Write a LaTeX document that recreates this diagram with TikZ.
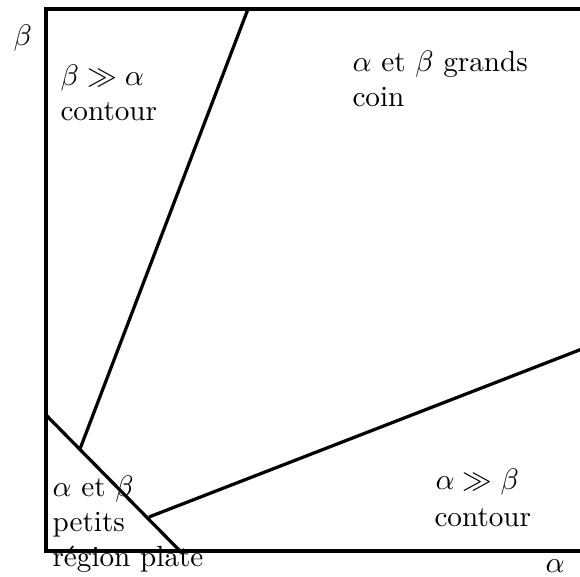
\documentclass[tikz,border=0pt]{standalone}
\begin{document}
\begin{tikzpicture}[x=0.37pt,y=-0.37pt,
  lbl/.style={anchor=base west,inner sep=0pt,font=\fontsize{10.8pt}{13pt}\selectfont},
  frame/.style={line width=1.5pt,line cap=rect},
  sep/.style={line width=1.2pt}]
\useasboundingbox (0,0) rectangle (580,577);
% frame corners
\coordinate (tl) at (46,9);
\coordinate (bl) at (46,551);
\coordinate (tr) at (590,9);
\coordinate (br) at (590,551);
\draw[frame] (tr) -- (tl) -- (bl) -- (br);
% separating lines
\coordinate (a1) at (248,9);
\coordinate (a2) at (80,449);
\coordinate (d1) at (46,415);
\coordinate (d2) at (180,551);
\coordinate (b1) at (149,517);
\coordinate (b2) at (582,349);
\draw[sep] (a1) -- (a2);
\draw[sep] (d1) -- (d2);
\draw[sep] (b1) -- (b2);
% axis labels
\node[lbl] (ylab) at (13,46) {$\beta$};
\node[lbl] (xlab) at (545,573) {$\alpha$};
% regions
\node[lbl] (r1a) at (60,86) {$\beta \gg \alpha$};
\node[lbl] (r1b) at (60,121) {contour};
\node[lbl] (r2a) at (352,72) {$\alpha$ et $\beta$ grands};
\node[lbl] (r2b) at (352,107) {coin};
\node[lbl] (r3a) at (52,497) {$\alpha$ et $\beta$};
\node[lbl] (r3b) at (52,532) {petits};
\node[lbl] (r3c) at (52,567) {région plate};
\node[lbl] (r4a) at (435,490) {$\alpha \gg \beta$};
\node[lbl] (r4b) at (434,527) {contour};
\end{tikzpicture}
\end{document}
